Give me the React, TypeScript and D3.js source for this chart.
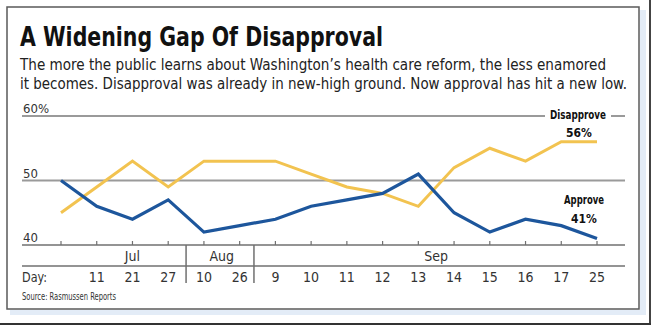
import React from "react";
import * as d3 from "d3";

const dayLabels = ["", "11", "21", "27", "10", "26", "9", "10", "11", "12", "13", "14", "15", "16", "17", "25"];
const approve = [50, 46, 44, 47, 42, 43, 44, 46, 47, 48, 51, 45, 42, 44, 43, 41];
const disapprove = [45, 49, 53, 49, 53, 53, 53, 51, 49, 48, 46, 52, 55, 53, 56, 56];
const months = [
  { name: "Jul", center: 2 },
  { name: "Aug", center: 4.5 },
  { name: "Sep", center: 10.5 },
];
const monthSeparators = [3.5, 5.4];
const yTicks = [
  { v: 60, label: "60%" },
  { v: 50, label: "50" },
  { v: 40, label: "40" },
];

const FONT = "'DejaVu Sans', sans-serif";
const BLUE = "#1d569c";
const YELLOW = "#f2c350";
const GRID = "#9a9a9a";
const AXIS = "#707070";

export default function App() {
  const x = d3.scaleLinear().domain([0, 15]).range([61, 597]);
  const y = d3.scaleLinear().domain([40, 60]).range([245, 116]);
  const line = d3
    .line<number>()
    .x((_, i) => x(i))
    .y((d) => y(d));
  const left = 22;
  const right = 625;
  const baseY = y(40);
  const monthLineY = 266;
  const idx = d3.range(approve.length);

  return (
    <svg
      width={654}
      height={328}
      style={{ position: "absolute", left: 0, top: 0, background: "#fff", fontStretch: "condensed" }}
      fontFamily={FONT}
    >
      {/* outer screenshot frame */}
      <rect x={640} y={10} width={6} height={302} fill="#e3ecf7" />
      <rect x={10} y={310} width={636} height={5} fill="#e3ecf7" />
      <line x1={650} y1={0} x2={650} y2={325} stroke="#444" strokeWidth={2} />
      <line x1={0} y1={324} x2={651} y2={324} stroke="#333" strokeWidth={2} />
      <rect x={7} y={7} width={632} height={302} fill="#fff" stroke="#5a5a5a" strokeWidth={1.5} />

      {/* title */}
      <text x={20} y={46} fontSize={27} fontWeight="bold" fill="#111" textLength={363} lengthAdjust="spacingAndGlyphs">
        A Widening Gap Of Disapproval
      </text>
      <text x={20} y={70} fontSize={15.5} fill="#222" textLength={586} lengthAdjust="spacingAndGlyphs">
        The more the public learns about Washington’s health care reform, the less enamored
      </text>
      <text x={20} y={89} fontSize={15.5} fill="#222" textLength={607} lengthAdjust="spacingAndGlyphs">
        it becomes. Disapproval was already in new-high ground. Now approval has hit a new low.
      </text>

      {/* gridlines */}
      {yTicks.map((t) => (
        <g key={t.v}>
          <line
            x1={left}
            x2={right}
            y1={y(t.v)}
            y2={y(t.v)}
            stroke={t.v === 40 ? AXIS : GRID}
            strokeWidth={t.v === 40 ? 1.5 : 2}
          />
          <text x={left + 1} y={y(t.v) - 3} fontSize={13} fill="#333">
            {t.label}
          </text>
        </g>
      ))}

      {/* ticks */}
      {idx.map((i) => (
        <line key={i} x1={x(i)} x2={x(i)} y1={baseY} y2={baseY - 4} stroke={AXIS} strokeWidth={1.2} />
      ))}

      {/* month row */}
      <line x1={left} x2={right} y1={monthLineY} y2={monthLineY} stroke={AXIS} strokeWidth={1.5} />
      {monthSeparators.map((s) => (
        <line key={s} x1={x(s)} x2={x(s)} y1={baseY} y2={283} stroke={AXIS} strokeWidth={1.5} />
      ))}
      {months.map((m) => (
        <text key={m.name} x={x(m.center)} y={261} fontSize={14} fill="#333" textAnchor="middle">
          {m.name}
        </text>
      ))}
      <text x={left} y={282} fontSize={14} fill="#333" textLength={25} lengthAdjust="spacingAndGlyphs">
        Day:
      </text>
      {idx.map((i) => (
        <text key={i} x={x(i)} y={282} fontSize={14} fill="#333" textAnchor="middle">
          {dayLabels[i]}
        </text>
      ))}
      <text x={left} y={300} fontSize={10} fill="#333" textLength={94} lengthAdjust="spacingAndGlyphs">
        Source: Rasmussen Reports
      </text>

      {/* series */}
      <path d={line(disapprove) || ""} fill="none" stroke={YELLOW} strokeWidth={3} strokeLinejoin="miter" />
      <path d={line(approve) || ""} fill="none" stroke={BLUE} strokeWidth={3.2} strokeLinejoin="miter" />

      {/* labels */}
      <rect x={545} y={109} width={66} height={12} fill="#fff" />
      <text x={578} y={119} fontSize={12} fontWeight="bold" fill="#111" textAnchor="middle" textLength={56} lengthAdjust="spacingAndGlyphs">
        Disapprove
      </text>
      <text x={579} y={137} fontSize={12} fontWeight="bold" fill="#111" textAnchor="middle">
        {disapprove[disapprove.length - 1]}%
      </text>
      <text x={584} y={204} fontSize={12} fontWeight="bold" fill="#111" textAnchor="middle" textLength={40} lengthAdjust="spacingAndGlyphs">
        Approve
      </text>
      <text x={584} y={223} fontSize={12} fontWeight="bold" fill="#111" textAnchor="middle">
        {approve[approve.length - 1]}%
      </text>
    </svg>
  );
}
